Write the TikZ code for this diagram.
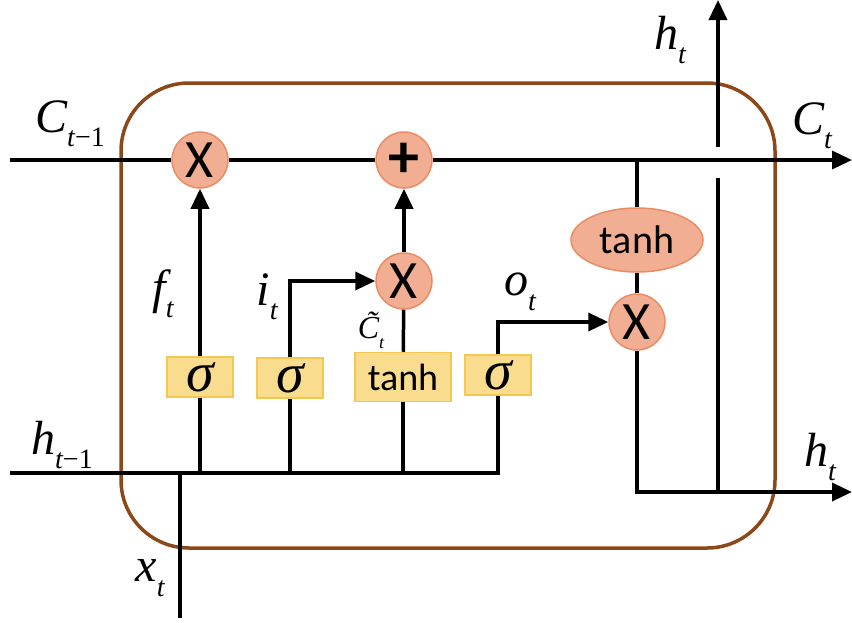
\documentclass[tikz,border=0pt]{standalone}
\usepackage{fontspec}
\setsansfont{Carlito}
\newfontfamily\tms{Liberation Serif}
\usetikzlibrary{arrows.meta,shapes.geometric}
\definecolor{boxbrown}{RGB}{140,72,24}
\definecolor{opfill}{RGB}{241,174,146}
\definecolor{opdraw}{RGB}{232,140,100}
\definecolor{gatefill}{RGB}{250,220,142}
\definecolor{gatedraw}{RGB}{244,200,80}
\newcommand\lab[2]{{\tms\itshape #1\raisebox{-0.3em}{\fontsize{28}{28}\selectfont #2}}}
\begin{document}
\begin{tikzpicture}[x=1pt,y=-1pt,
  wire/.style={line width=3.5pt, black},
  arr/.style={wire, -{Triangle[length=20pt,width=18pt]}},
  op/.style={circle, fill=opfill, draw=opdraw, line width=1.5pt, minimum size=56pt, inner sep=0pt, font=\sffamily\fontsize{54}{54}\selectfont},
  gate/.style={rectangle, fill=gatefill, draw=gatedraw, line width=1.5pt, minimum width=66pt, minimum height=40pt, inner sep=0pt, font=\tms\itshape\fontsize{56}{56}\selectfont},
  lbl/.style={font=\fontsize{48}{48}\selectfont, inner sep=0pt}]
\useasboundingbox (0,0) rectangle (852,622);
% cell boundary
\draw[boxbrown, line width=3.5pt, rounded corners=68pt] (121,83) rectangle (775,548);
% operators
\node[op] (fx) at (200,160) {X};
\node[op, font=\sffamily\bfseries\fontsize{62}{62}\selectfont] (plus) at (404,160) {+};
\node[op] (ix) at (404,281) {X};
\node[op] (ox) at (637,322) {X};
\node[ellipse, fill=opfill, draw=opdraw, line width=1.5pt, minimum width=132pt, minimum height=64pt, inner sep=0pt, font=\sffamily\fontsize{40}{40}\selectfont] (tanhC) at (637,240) {tanh};
% gates
\node[gate] (sf) at (200,377) {σ};
\node[gate] (si) at (290,378) {σ};
\node[gate, minimum width=96pt, minimum height=49pt, font=\sffamily\fontsize{38}{38}\selectfont] (tg) at (403,377) {tanh};
\node[gate] (so) at (498,375) {σ};
% coordinates
\coordinate (cin) at (10,160);
\coordinate (cout) at (852,160);
\coordinate (hin) at (10,473);
\coordinate (xbot) at (180,618);
\coordinate (xtop) at (180,473);
\coordinate (cj) at (637,160);
\coordinate (hout) at (852,492);
\coordinate (hup0) at (718,492);
\coordinate (hgapb) at (718,178);
\coordinate (hgapt) at (718,147);
\coordinate (htop) at (718,0);
% cell state line
\draw[arr] (cin) -- (fx) -- (plus) -- (cout);
% hidden input bus
\draw[wire] (hin) -- (hin -| so.south) -- (so.south);
\draw[wire] (sf.south) -- (sf.south |- hin);
\draw[wire] (si.south) -- (si.south |- hin);
\draw[wire] (tg.south) -- (tg.south |- hin);
\draw[wire] (xbot) -- (xtop);
% gate outputs
\draw[arr] (sf) -- (fx);
\draw[arr] (si.north) |- (ix);
\draw[wire] (tg) -- (ix);
\draw[arr] (ix) -- (plus);
\draw[arr] (so.north) |- (ox);
% output path
\draw[wire] (cj) -- (tanhC);
\draw[wire] (tanhC) -- (ox);
\draw[arr] (ox) |- (hout);
\draw[wire] (hup0) -- (hgapb);
\draw[arr] (hgapt) -- (htop);
% labels
\node[lbl] (lC1) at (70,124) {\lab{C}{t\upshape −1}};
\node[lbl] (lCt) at (812,126) {\lab{C}{t}};
\node[lbl] (lht) at (670,40) {\lab{h}{t}};
\node[lbl] (lf) at (163,294) {\lab{f}{t}};
\node[lbl] (li) at (267,297) {\lab{i}{t}};
\node[inner sep=0pt, font=\tms\itshape\fontsize{32}{32}\selectfont] (lct) at (371,330) {\~{C}\raisebox{-0.3em}{\fontsize{18}{18}\selectfont t}};
\node[lbl] (lo) at (520,292) {\lab{o}{t}};
\node[lbl] (lh1) at (62,445) {\lab{h}{t\upshape −1}};
\node[lbl] (lh2) at (820,457) {\lab{h}{t}};
\node[lbl] (lx) at (150,578) {\lab{x}{t}};
\end{tikzpicture}
\end{document}
